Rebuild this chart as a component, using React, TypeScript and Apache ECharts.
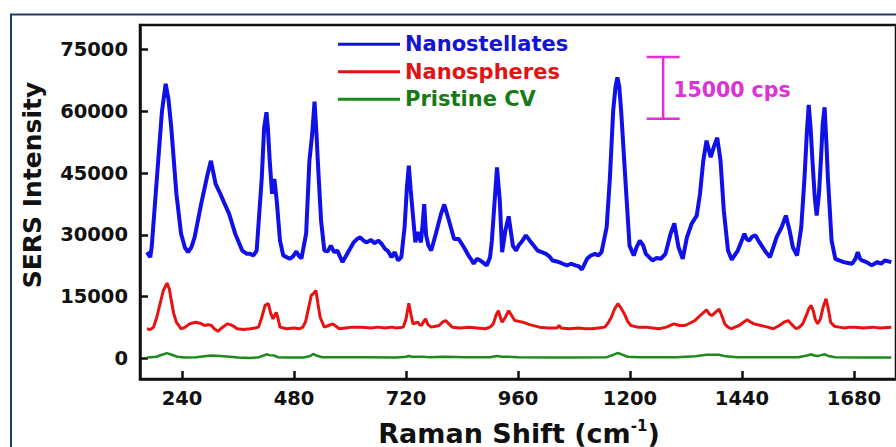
import React, { useEffect, useRef } from 'react';
import * as echarts from 'echarts';

const FONT = '"DejaVu Sans", "Liberation Sans", sans-serif';

const seriesNames = ['Nanostellates', 'Nanospheres', 'Pristine CV'];
const seriesColors = ['#1010e8', '#e81212', '#1c8a1c'];
const legendTextColors = ['#1414d2', '#e01414', '#177a17'];

const xTicks = [240, 480, 720, 960, 1200, 1440, 1680];
const yTicks = [0, 15000, 30000, 45000, 60000, 75000];

const stellatesShift = [
  165, 172, 175, 189, 197, 205, 211, 217, 228, 238, 246, 253, 260, 267, 281, 295, 302, 312, 322, 330,
  341, 354, 369, 379, 386, 393, 400, 411, 416, 421, 424, 428, 433, 438, 443, 450, 457, 464, 471, 478,
  485, 490, 496, 506, 513, 519, 524, 528, 531, 538, 545, 552, 559, 566, 573, 579, 584, 591, 598, 608,
  615, 622, 629, 636, 645, 652, 661, 668, 675, 682, 689, 696, 703, 710, 717, 722, 726, 730, 734, 740,
  745, 752, 756, 759, 763, 768, 774, 784, 795, 802, 812, 823, 833, 844, 854, 860, 865, 872, 879, 886,
  893, 900, 904, 911, 915, 921, 926, 933, 940, 949, 956, 962, 967, 977, 988, 1002, 1011, 1020, 1027, 1034,
  1041, 1048, 1056, 1065, 1074, 1083, 1090, 1097, 1108, 1116, 1125, 1132, 1139, 1150, 1157, 1164, 1169, 1173, 1177, 1181,
  1192, 1199, 1208, 1214, 1221, 1228, 1234, 1241, 1248, 1257, 1266, 1276, 1287, 1295, 1304, 1313, 1322, 1332, 1343, 1350,
  1357, 1364, 1373, 1380, 1387, 1394, 1401, 1410, 1418, 1431, 1438, 1445, 1450, 1455, 1462, 1469, 1475, 1482, 1490, 1500,
  1507, 1514, 1525, 1534, 1542, 1549, 1558, 1567, 1574, 1579, 1583, 1587, 1591, 1596, 1600, 1605, 1609, 1613, 1617, 1621,
  1624, 1632, 1640, 1648, 1658, 1667, 1676, 1683, 1688, 1693, 1697, 1707, 1718, 1730, 1738, 1746, 1760,
];
const stellatesIntensity = [
  25800, 24600, 27000, 48000, 60000, 66700, 63000, 56100, 40000, 30300, 27000, 25800, 27000, 29400, 37500, 44800, 48000, 42400, 40000, 37900,
  35100, 30300, 26200, 25400, 25400, 25000, 26200, 44000, 56000, 59800, 56000, 48000, 40000, 43600, 38300, 28600, 25000, 24600, 24200, 24800,
  26000, 25000, 24300, 30300, 48000, 54500, 62400, 55000, 48000, 33500, 26200, 26000, 27400, 25800, 26200, 24600, 23400, 24800, 26200, 28200,
  29000, 29400, 28600, 28200, 28800, 28000, 28600, 27800, 26600, 26000, 24600, 25800, 23800, 24600, 31900, 41600, 46800, 41000, 35900, 28200,
  30700, 28200, 33000, 37500, 30000, 27400, 26200, 30300, 35100, 37400, 33500, 29000, 29000, 27000, 25000, 24000, 23000, 24200, 23800, 23200,
  22600, 24500, 28600, 40000, 46400, 38300, 25800, 31100, 34500, 27400, 26200, 27600, 28200, 29900, 28200, 26200, 25800, 25400, 24800, 23800,
  23600, 23400, 23000, 22600, 23000, 22600, 22400, 21600, 24200, 25000, 25400, 25000, 25800, 31900, 44000, 60200, 66000, 68300, 66000, 60200,
  40000, 27400, 25000, 27000, 28600, 27500, 25400, 24600, 23800, 24400, 24200, 25400, 30300, 32800, 27000, 24200, 29400, 32700, 34700, 40000,
  48000, 52900, 48900, 51500, 53600, 48000, 35900, 26200, 24000, 26200, 28200, 30300, 29000, 28600, 29600, 29900, 28600, 27400, 26000, 24600,
  27000, 29400, 31900, 34700, 31100, 27000, 25000, 31900, 44000, 55000, 61600, 56000, 48000, 39000, 34700, 40000, 48000, 57000, 61000, 52000,
  44000, 28600, 24200, 23800, 23400, 23200, 23000, 24200, 25800, 24200, 23800, 23400, 22600, 23400, 23000, 23800, 23400,
];

const spheresShift = [
  165, 172, 179, 186, 193, 200, 208, 213, 217, 222, 228, 238, 247, 256, 263, 270, 280, 288, 296, 303,
  309, 317, 325, 337, 344, 351, 358, 372, 386, 396, 404, 411, 418, 425, 430, 435, 442, 446, 450, 464,
  480, 492, 499, 505, 510, 517, 522, 527, 531, 536, 545, 554, 563, 570, 577, 590, 605, 626, 645, 660,
  675, 689, 700, 714, 720, 726, 731, 735, 740, 745, 749, 753, 757, 762, 767, 774, 783, 791, 798, 805,
  812, 819, 837, 854, 872, 890, 900, 907, 913, 918, 922, 926, 933, 940, 946, 953, 962, 970, 985, 1006,
  1025, 1044, 1048, 1052, 1070, 1090, 1105, 1118, 1132, 1146, 1153, 1160, 1167, 1174, 1181, 1188, 1195, 1202, 1216, 1234,
  1248, 1262, 1278, 1294, 1306, 1318, 1329, 1339, 1352, 1364, 1370, 1375, 1383, 1391, 1397, 1403, 1410, 1417, 1425, 1434,
  1443, 1451, 1459, 1466, 1480, 1495, 1507, 1520, 1530, 1539, 1547, 1556, 1563, 1570, 1578, 1583, 1588, 1593, 1597, 1602,
  1608, 1614, 1620, 1625, 1630, 1638, 1648, 1660, 1670, 1683, 1700, 1720, 1735, 1760,
];
const spheresIntensity = [
  7200, 7000, 7600, 10000, 13300, 16500, 18300, 16800, 14100, 11000, 8800, 7200, 7600, 8400, 8600, 8800, 8500, 8000, 8200, 8000,
  7200, 6600, 7400, 8400, 8200, 7800, 7200, 7000, 7200, 7400, 7600, 10000, 12900, 13300, 11000, 9600, 11200, 9600, 7600, 7200,
  7400, 7200, 7600, 9000, 11600, 15300, 15800, 16500, 13500, 10000, 7600, 8000, 8400, 7800, 7200, 7400, 7600, 7600, 7400, 7600,
  7400, 7600, 7400, 7600, 9500, 13400, 10500, 8400, 8600, 8800, 8200, 8000, 8800, 9600, 8200, 7600, 7800, 8000, 8800, 9200,
  8400, 7600, 7400, 7600, 7400, 7200, 7600, 8400, 10500, 11600, 10000, 8800, 10000, 11600, 10500, 9200, 9000, 8800, 8200, 7600,
  7400, 7400, 8000, 7400, 7200, 7400, 7200, 7200, 7400, 7600, 8600, 10000, 12000, 13300, 12200, 10800, 9000, 8000, 7600, 7600,
  7400, 7200, 7600, 8400, 8000, 8000, 8600, 9200, 10600, 11800, 10800, 10400, 11200, 12000, 10300, 8400, 7600, 7200, 7600, 8000,
  8800, 9400, 8800, 8400, 8000, 7600, 7200, 8000, 8800, 9200, 8200, 7200, 7600, 8400, 10500, 12000, 12900, 11500, 9500, 8400,
  9600, 12500, 14500, 12000, 8800, 7800, 7600, 7400, 7600, 7600, 7400, 7600, 7400, 7600,
];

const cvShift = [
  165, 185, 200, 207, 215, 230, 245, 270, 302, 330, 360, 386, 405, 415, 421, 428, 438, 445, 470, 500,
  515, 521, 528, 540, 580, 640, 700, 720, 726, 732, 757, 770, 800, 850, 900, 915, 925, 940, 960, 1050,
  1150, 1165, 1173, 1182, 1195, 1220, 1300, 1340, 1364, 1380, 1391, 1405, 1430, 1500, 1560, 1580, 1587, 1595, 1602, 1610,
  1617, 1625, 1640, 1700, 1760,
];
const cvIntensity = [
  200, 400, 1000, 1300, 1000, 400, 200, 300, 700, 500, 200, 100, 300, 700, 1000, 800, 700, 300, 200, 200,
  600, 1100, 700, 300, 300, 300, 200, 400, 600, 400, 400, 300, 400, 300, 300, 600, 400, 400, 300, 200,
  300, 900, 1300, 1000, 400, 300, 300, 500, 900, 900, 900, 500, 300, 300, 300, 700, 1000, 700, 600, 800,
  1000, 600, 300, 200, 200,
];

// scale bar annotation: 15000 cps
const scaleBarShift = 1271;
const scaleBarBottom = 58250;
const scaleBarSpan = 15000;
const scaleBarLabel = '15000 cps';

const zip = (xs: number[], ys: number[]) => xs.map((x, i) => [x, ys[i]]);

export default function App() {
  const ref = useRef<HTMLDivElement>(null);

  useEffect(() => {
    const chart = echarts.init(ref.current!, null, { renderer: 'svg' });
    const labelStyle = {
      color: '#111',
      fontFamily: FONT,
      fontWeight: 'bold' as const,
      fontSize: 19.5,
      formatter: (v: number) => String(v),
    };
    chart.setOption({
      animation: false,
      backgroundColor: '#ffffff',
      grid: {
        left: 140,
        top: 25,
        right: -12,
        bottom: 68,
        show: true,
        borderColor: '#111',
        borderWidth: 2.5,
        containLabel: false,
      },
      legend: {
        orient: 'vertical',
        left: 333,
        top: 28,
        icon: 'rect',
        itemWidth: 62,
        itemHeight: 3,
        itemGap: 5,
        selectedMode: false,
        textStyle: { fontFamily: FONT, fontWeight: 'bold', fontSize: 21, lineHeight: 22.5 },
        data: seriesNames.map((n, i) => ({
          name: n,
          itemStyle: { color: seriesColors[i] },
          textStyle: { color: legendTextColors[i] },
        })),
      },
      xAxis: {
        type: 'value',
        min: 150,
        max: 1770,
        axisLine: { show: true, onZero: false, lineStyle: { color: '#111', width: 2.5 } },
        axisTick: {
          show: true,
          inside: true,
          length: 8,
          customValues: xTicks,
          lineStyle: { color: '#111', width: 2.5 },
        },
        axisLabel: { ...labelStyle, margin: 9, customValues: xTicks },
        splitLine: { show: false },
      },
      yAxis: {
        type: 'value',
        min: -5000,
        max: 81000,
        axisLine: { show: true, onZero: false, lineStyle: { color: '#111', width: 2.5 } },
        axisTick: {
          show: true,
          inside: true,
          length: 8,
          customValues: yTicks,
          lineStyle: { color: '#111', width: 2.5 },
        },
        axisLabel: { ...labelStyle, margin: 12, customValues: yTicks },
        splitLine: { show: false },
      },
      series: [
        {
          name: seriesNames[2],
          type: 'line',
          symbol: 'none',
          data: zip(cvShift, cvIntensity),
          lineStyle: { color: seriesColors[2], width: 2.5 },
          itemStyle: { color: seriesColors[2] },
        },
        {
          name: seriesNames[1],
          type: 'line',
          symbol: 'none',
          data: zip(spheresShift, spheresIntensity),
          lineStyle: { color: seriesColors[1], width: 3 },
          itemStyle: { color: seriesColors[1] },
        },
        {
          name: seriesNames[0],
          type: 'line',
          symbol: 'none',
          data: zip(stellatesShift, stellatesIntensity),
          lineStyle: { color: seriesColors[0], width: 4 },
          itemStyle: { color: seriesColors[0] },
        },
      ],
    });

    const top = chart.convertToPixel({ gridIndex: 0 }, [scaleBarShift, scaleBarBottom + scaleBarSpan]) as number[];
    const bot = chart.convertToPixel({ gridIndex: 0 }, [scaleBarShift, scaleBarBottom]) as number[];
    const magenta = '#e030d8';
    const capHalf = 16.5;

    chart.setOption({
      graphic: [
        {
          type: 'rect',
          silent: true,
          shape: { x: 11, y: 14.5, width: 1000, height: 1000 },
          style: { fill: 'none', stroke: '#233c6c', lineWidth: 2 },
          z: 100,
        },
        {
          type: 'line',
          shape: { x1: top[0], y1: top[1], x2: bot[0], y2: bot[1] },
          style: { stroke: magenta, lineWidth: 2.5 },
          z: 100,
        },
        {
          type: 'line',
          shape: { x1: top[0] - capHalf, y1: top[1], x2: top[0] + capHalf, y2: top[1] },
          style: { stroke: magenta, lineWidth: 2.5 },
          z: 100,
        },
        {
          type: 'line',
          shape: { x1: bot[0] - capHalf, y1: bot[1], x2: bot[0] + capHalf, y2: bot[1] },
          style: { stroke: magenta, lineWidth: 2.5 },
          z: 100,
        },
        {
          type: 'text',
          x: top[0] + 10,
          y: (top[1] + bot[1]) / 2 + 2,
          style: {
            text: scaleBarLabel,
            fill: magenta,
            fontFamily: FONT,
            fontWeight: 'bold',
            fontSize: 20.5,
            align: 'left',
            verticalAlign: 'middle',
          },
          z: 100,
        },
        {
          type: 'text',
          x: 32,
          y: 185,
          rotation: Math.PI / 2,
          style: {
            text: 'SERS Intensity',
            fill: '#111',
            fontFamily: FONT,
            fontWeight: 'bold',
            fontSize: 25,
            align: 'center',
            verticalAlign: 'middle',
          },
          z: 100,
        },
        {
          type: 'text',
          x: 519,
          y: 433,
          style: {
            text: '{a|Raman Shift (cm}{b|-1}{a|)}',
            fill: '#111',
            align: 'center',
            verticalAlign: 'middle',
            rich: {
              a: { fontFamily: FONT, fontWeight: 'bold', fontSize: 27, fill: '#111', lineHeight: 30 },
              b: { fontFamily: FONT, fontWeight: 'bold', fontSize: 15, fill: '#111', verticalAlign: 'top', lineHeight: 30 },
            },
          },
          z: 100,
        },
      ],
    });

    return () => chart.dispose();
  }, []);

  return (
    <div
      ref={ref}
      style={{ position: 'fixed', left: 0, top: 0, width: 896, height: 447, background: '#fff' }}
    />
  );
}
